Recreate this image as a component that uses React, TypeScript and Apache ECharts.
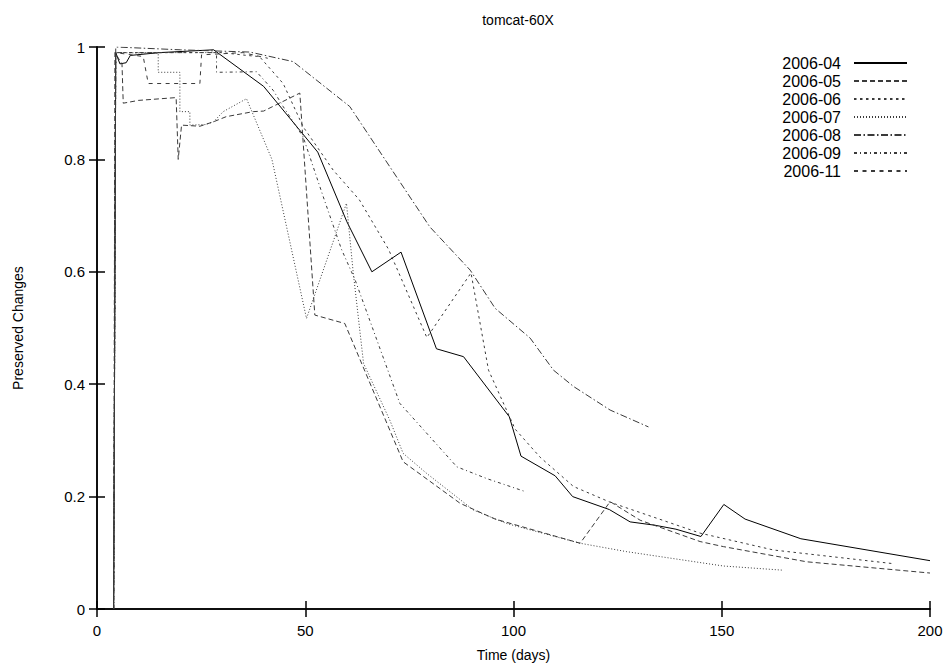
import React, { useEffect, useRef } from "react";
import * as echarts from "echarts";

const seriesNames = ["2006-04", "2006-05", "2006-06", "2006-07", "2006-08", "2006-09", "2006-11"];

const days04 = [4, 4.5, 5.5, 7, 8, 15, 28, 40, 53, 60, 66, 73, 81.5, 88, 99, 101.8, 110, 114.2, 123, 128, 134, 139, 145, 150.5, 155.6, 169, 200];
const vals04 = [0, 0.99, 0.97, 0.972, 0.985, 0.99, 0.995, 0.93, 0.813, 0.689, 0.6, 0.635, 0.463, 0.449, 0.342, 0.272, 0.237, 0.2, 0.177, 0.155, 0.149, 0.142, 0.129, 0.186, 0.16, 0.125, 0.086];

const days05 = [4, 4.3, 6, 6.3, 10, 19, 19.5, 20.3, 24.7, 28, 31, 37.5, 40, 48.7, 52.3, 59.5, 73.5, 87.2, 95.6, 116, 123.2, 130.4, 144.8, 150.4, 170.4, 200];
const vals05 = [0, 0.99, 0.97, 0.9, 0.905, 0.91, 0.8, 0.861, 0.859, 0.867, 0.876, 0.885, 0.886, 0.918, 0.523, 0.508, 0.262, 0.188, 0.16, 0.117, 0.191, 0.158, 0.12, 0.111, 0.084, 0.064];

const days06 = [4, 4.5, 10, 20, 30, 36, 39, 44.7, 49.5, 56.7, 63, 70, 79.2, 89.8, 94, 100.4, 106.4, 114.4, 123.2, 144.8, 162.4, 190.8];
const vals06 = [0, 0.99, 0.99, 0.99, 0.99, 0.985, 0.983, 0.935, 0.858, 0.781, 0.728, 0.64, 0.483, 0.598, 0.425, 0.32, 0.27, 0.218, 0.19, 0.135, 0.105, 0.081];

const days07 = [4, 4.5, 14.7, 14.7, 19.9, 19.9, 22.3, 22.3, 26, 28, 30.3, 35.9, 42, 50.3, 59.9, 61.5, 64, 70.3, 73.5, 79.2, 90.4, 98.4, 116, 127.2, 150.4, 164.8];
const vals07 = [0, 0.99, 0.989, 0.955, 0.955, 0.885, 0.885, 0.861, 0.862, 0.867, 0.885, 0.908, 0.8, 0.517, 0.722, 0.6, 0.437, 0.336, 0.277, 0.241, 0.176, 0.152, 0.117, 0.102, 0.0765, 0.069];

const days08 = [4, 4.5, 20, 36.7, 47.1, 60.7, 79.9, 89.6, 95.6, 104, 109.6, 114.4, 123.2, 132.4];
const vals08 = [0, 1, 0.995, 0.991, 0.974, 0.894, 0.68, 0.603, 0.535, 0.482, 0.425, 0.396, 0.354, 0.324];

const days09 = [4, 4.5, 28.7, 28.7, 38.3, 42.3, 44.7, 49.5, 54.3, 58.7, 62, 72.7, 86.4, 93.6, 102.8];
const vals09 = [0, 0.99, 0.99, 0.955, 0.956, 0.923, 0.894, 0.84, 0.734, 0.64, 0.585, 0.366, 0.253, 0.232, 0.209];

const days11 = [4, 4.5, 11.1, 12.3, 24.7, 25.1, 35, 41];
const vals11 = [0, 0.99, 0.983, 0.935, 0.935, 0.986, 0.99, 0.98];

const xTicks = [0, 50, 100, 150, 200];
const yTicks = [0, 0.2, 0.4, 0.6, 0.8, 1];

const allDays = [days04, days05, days06, days07, days08, days09, days11];
const allVals = [vals04, vals05, vals06, vals07, vals08, vals09, vals11];

const lineTypes: any[] = [
  "solid",
  [5, 3],
  [2.5, 3.5],
  [1, 2],
  [7, 2.5, 1.5, 2.5],
  [3, 3, 1, 3],
  [4, 4.5],
];
const lineColors = ["#000000", "#3a3a3a", "#3a3a3a", "#3a3a3a", "#3a3a3a", "#3a3a3a", "#3a3a3a"];

const FONT = "'Liberation Sans', Arial, Helvetica, sans-serif";

export default function App() {
  const ref = useRef<HTMLDivElement>(null);
  useEffect(() => {
    if (!ref.current) return;
    const chart = echarts.init(ref.current, undefined, { renderer: "svg" });
    const series = seriesNames.map((name, i) => ({
      name,
      type: "line",
      xAxisIndex: 0,
      yAxisIndex: 0,
      data: allDays[i].map((d, j) => [d, allVals[i][j]]),
      symbol: "none",
      showSymbol: false,
      lineStyle: { color: lineColors[i], width: 1, type: lineTypes[i] },
      itemStyle: { color: lineColors[i] },
      emphasis: { disabled: true },
    }));
    const axisLine = { show: true, lineStyle: { color: "#000", width: 1.5 } };
    const axisTick = { show: true, inside: true, length: 8, lineStyle: { color: "#000", width: 1.5 } };
    chart.setOption({
      animation: false,
      backgroundColor: "#ffffff",
      title: {
        text: "tomcat-60X",
        left: 513,
        top: 8,
        textAlign: "center",
        textStyle: { fontFamily: FONT, fontSize: 14, fontWeight: "normal", color: "#000" },
      },
      legend: {
        orient: "vertical",
        right: 38,
        top: 50,
        align: "right",
        itemWidth: 53,
        itemHeight: 10,
        itemGap: 2,
        itemStyle: { opacity: 0, borderWidth: 0 },
        textStyle: { fontFamily: FONT, fontSize: 16, color: "#000", padding: [0, 8, 0, 0] },
        data: seriesNames,
      },
      grid: { left: 97, right: 21, top: 47, bottom: 60, containLabel: false },
      xAxis: [
        {
          type: "value",
          min: xTicks[0],
          max: xTicks[xTicks.length - 1],
          interval: 50,
          name: "Time (days)",
          nameLocation: "middle",
          nameGap: 39,
          nameTextStyle: { fontFamily: FONT, fontSize: 14, color: "#000" },
          axisLine,
          axisTick,
          splitLine: { show: false },
          axisLabel: { fontFamily: FONT, fontSize: 15, color: "#000", margin: 14 },
        },
        {
          type: "value",
          position: "top",
          min: xTicks[0],
          max: xTicks[xTicks.length - 1],
          interval: 50,
          axisLine,
          axisTick,
          splitLine: { show: false },
          axisLabel: { show: false },
        },
      ],
      yAxis: [
        {
          type: "value",
          min: yTicks[0],
          max: yTicks[yTicks.length - 1],
          interval: 0.2,
          name: "Preserved Changes",
          nameLocation: "middle",
          nameGap: 72,
          nameTextStyle: { fontFamily: FONT, fontSize: 14, color: "#000" },
          axisLine,
          axisTick,
          splitLine: { show: false },
          axisLabel: { fontFamily: FONT, fontSize: 15, color: "#000", margin: 12 },
        },
        {
          type: "value",
          position: "right",
          min: yTicks[0],
          max: yTicks[yTicks.length - 1],
          interval: 0.2,
          axisLine,
          axisTick,
          splitLine: { show: false },
          axisLabel: { show: false },
        },
      ],
      series,
    });
    return () => chart.dispose();
  }, []);
  return (
    <div
      ref={ref}
      style={{ position: "fixed", left: 0, top: 0, width: 951, height: 669, background: "#fff" }}
    />
  );
}
